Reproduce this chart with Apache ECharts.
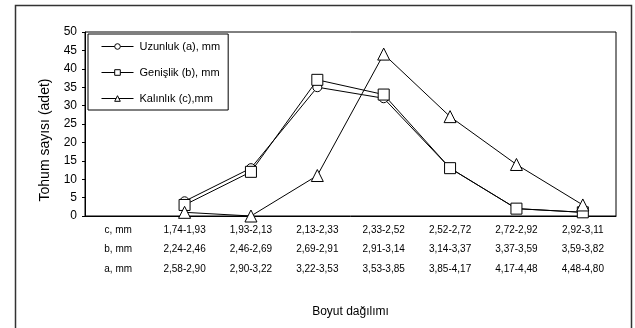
<!DOCTYPE html>
<html><head><meta charset="utf-8">
<script src="https://cdn.jsdelivr.net/npm/echarts@6/dist/echarts.min.js"></script>
<style>html,body{margin:0;padding:0;background:#fff}#c{width:635px;height:328px}</style>
</head><body><div id="c"></div>
<script>
const cLabels = ["c, mm","1,74-1,93","1,93-2,13","2,13-2,33","2,33-2,52","2,52-2,72","2,72-2,92","2,92-3,11"];
const bLabels = ["b, mm","2,24-2,46","2,46-2,69","2,69-2,91","2,91-3,14","3,14-3,37","3,37-3,59","3,59-3,82"];
const aLabels = ["a, mm","2,58-2,90","2,90-3,22","3,22-3,53","3,53-3,85","3,85-4,17","4,17-4,48","4,48-4,80"];
const uzunluk = [null, 4, 13, 35, 32, 13, 2, 1];
const genislik = [null, 3, 12, 37, 33, 13, 2, 1];
const kalinlik = [null, 1, 0, 11, 44, 27, 14, 3];
const seriesNames = ["Uzunluk (a), mm","Genişlik (b), mm","Kalınlık (c),mm"];
const yTicks = {min:0, max:50, interval:5};

const FONT = "Liberation Sans, Arial, sans-serif";
const chart = echarts.init(document.getElementById('c'), null, {renderer:'canvas'});
const mk = (name, data, symbol, size) => ({
  name, type:'line', data, symbol, symbolSize:size, showAllSymbol:true,
  lineStyle:{color:'#000', width:1},
  itemStyle:{color:'#fff', borderColor:'#000', borderWidth:1},
  connectNulls:false, animation:false
});
chart.setOption({
  animation:false,
  textStyle:{fontFamily:FONT, color:'#000'},
  graphic:[{type:'rect', shape:{x:15.5,y:5.5,width:616,height:340}, style:{fill:null, stroke:'#333', lineWidth:1.5}}],
  grid:{left:85, top:32, width:531, height:184, show:true, borderColor:'#000', borderWidth:1, backgroundColor:'transparent'},
  legend:{
    orient:'vertical', left:88, top:34, padding:[7,8,6,13], itemGap:15,
    itemWidth:32, itemHeight:7,
    borderColor:'#000', borderWidth:1, backgroundColor:'#fff',
    lineStyle:{width:1, color:'#000'},
    itemStyle:{color:'#fff', borderColor:'#000', borderWidth:1},
    textStyle:{fontFamily:FONT, fontSize:11, color:'#000', padding:[0,0,0,1]},
    data:seriesNames
  },
  xAxis:{
    type:'category', data:cLabels, boundaryGap:true,
    name:'Boyut dağılımı', nameLocation:'middle', nameGap:90,
    nameTextStyle:{fontFamily:FONT, fontSize:12, color:'#000'},
    axisLine:{lineStyle:{color:'#000'}}, axisTick:{show:false},
    axisLabel:{interval:0, margin:4, fontFamily:FONT, fontSize:10, color:'#000', lineHeight:19.5,
      formatter:(v,i)=> cLabels[i]+'\n'+bLabels[i]+'\n'+aLabels[i]}
  },
  yAxis:{
    type:'value', min:yTicks.min, max:yTicks.max, interval:yTicks.interval,
    name:'Tohum sayısı (adet)', nameLocation:'middle', nameGap:33,
    nameTextStyle:{fontFamily:FONT, fontSize:14, color:'#000', padding:[0,32,0,0]},
    axisLine:{show:true, lineStyle:{color:'#000'}},
    axisTick:{show:true, length:3, lineStyle:{color:'#000'}},
    splitLine:{show:false},
    axisLabel:{fontFamily:FONT, fontSize:12, color:'#000', margin:8}
  },
  series:[
    mk(seriesNames[0], uzunluk, 'circle', 9),
    mk(seriesNames[1], genislik, 'rect', 11),
    mk(seriesNames[2], kalinlik, 'triangle', 12)
  ]
});
</script></body></html>
